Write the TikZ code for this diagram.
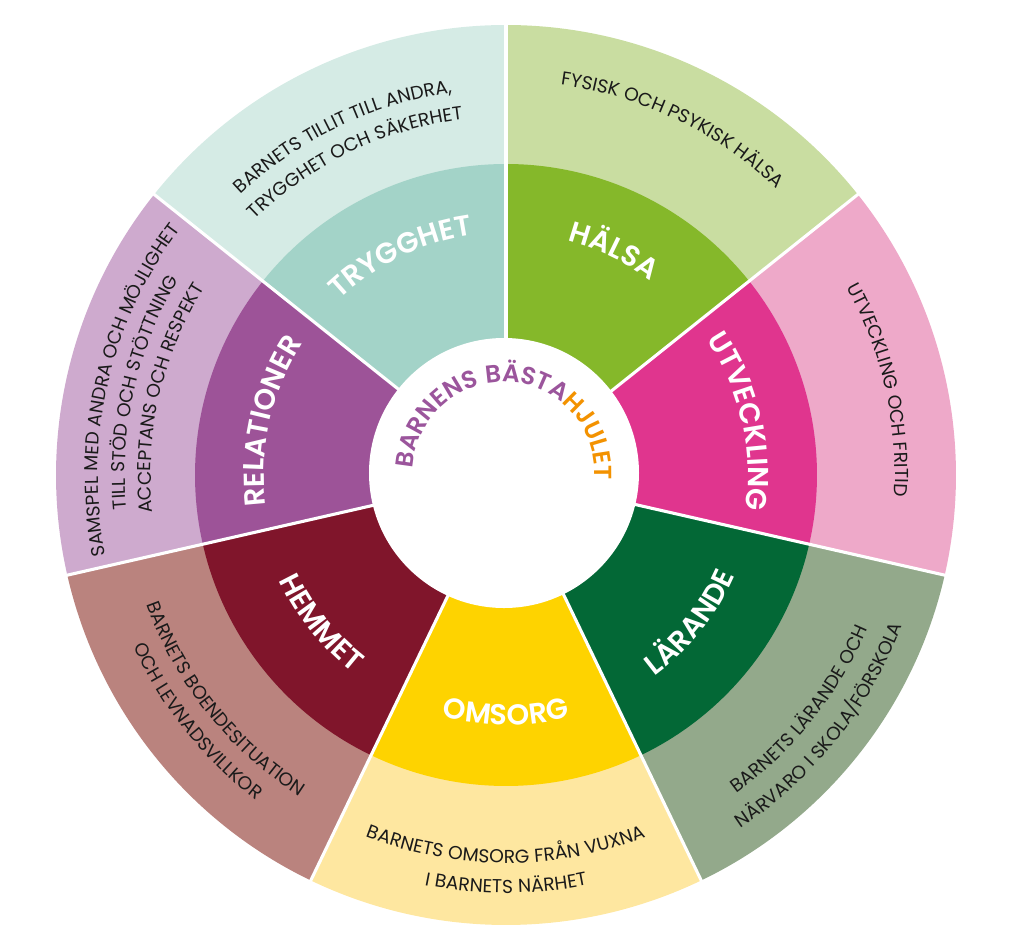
\documentclass[tikz,border=0pt]{standalone}
\usepackage{fontspec}
\setmainfont{Poppins}
\newfontfamily\hubfamily[LetterSpace=5, BoldFont={Poppins SemiBold}]{Poppins}
\newfontfamily\spokefamily[LetterSpace=8, BoldFont={Poppins SemiBold}]{Poppins}
\newfontfamily\rimfamily[LetterSpace=1.5]{Poppins}
\usepackage{xcolor}
\usepackage{tikz}
\usetikzlibrary{decorations.text}
\definecolor{trygin}{RGB}{163,211,200}
\definecolor{trygout}{RGB}{213,235,229}
\definecolor{halsain}{RGB}{133,184,42}
\definecolor{halsaout}{RGB}{201,221,161}
\definecolor{utvin}{RGB}{224,53,142}
\definecolor{utvout}{RGB}{238,169,201}
\definecolor{larin}{RGB}{3,104,54}
\definecolor{larout}{RGB}{147,169,139}
\definecolor{omsin}{RGB}{254,211,0}
\definecolor{omsout}{RGB}{254,231,160}
\definecolor{hemin}{RGB}{128,21,43}
\definecolor{hemout}{RGB}{186,131,126}
\definecolor{relin}{RGB}{157,83,152}
\definecolor{relout}{RGB}{206,170,206}
\definecolor{hubpurple}{RGB}{155,85,156}
\definecolor{huborange}{RGB}{243,146,0}
\definecolor{rimtext}{RGB}{26,26,26}
\newcommand{\spokefont}{\spokefamily\bfseries\fontsize{20.5}{20.5}\selectfont\color{white}}
\newcommand{\rimfont}{\rimfamily\fontsize{13.3}{13.3}\selectfont\color{rimtext}}
\newcommand{\hubfont}{\hubfamily\bfseries\fontsize{17.5}{17.5}\selectfont}

\begin{document}
\begin{tikzpicture}[
    x=0.025cm, y=0.025cm,
    gapline/.style={draw=white, line width=2.2pt},
    spoke/.style={decorate, decoration={text along path, text align=center, text={|\spokefont|#1}}},
    rim/.style={decorate, decoration={text along path, text align=center, text={|\rimfont|#1}}}
]
\useasboundingbox (-506,-468) rectangle (518,475);

% outer ring
\fill[trygout] (0,0) -- (141.43:450) arc[start angle=141.43, end angle=90, radius=450] -- cycle;
\fill[halsaout] (0,0) -- (90:450) arc[start angle=90, end angle=38.57, radius=450] -- cycle;
\fill[utvout] (0,0) -- (38.57:450) arc[start angle=38.57, end angle=-12.86, radius=450] -- cycle;
\fill[larout] (0,0) -- (-12.86:450) arc[start angle=-12.86, end angle=-64.29, radius=450] -- cycle;
\fill[omsout] (0,0) -- (-64.29:450) arc[start angle=-64.29, end angle=-115.71, radius=450] -- cycle;
\fill[hemout] (0,0) -- (-115.71:450) arc[start angle=-115.71, end angle=-167.14, radius=450] -- cycle;
\fill[relout] (0,0) -- (-167.14:450) arc[start angle=-167.14, end angle=-218.57, radius=450] -- cycle;

% inner ring
\fill[trygin] (0,0) -- (141.43:311) arc[start angle=141.43, end angle=90, radius=311] -- cycle;
\fill[halsain] (0,0) -- (90:311) arc[start angle=90, end angle=38.57, radius=311] -- cycle;
\fill[utvin] (0,0) -- (38.57:311) arc[start angle=38.57, end angle=-12.86, radius=311] -- cycle;
\fill[larin] (0,0) -- (-12.86:311) arc[start angle=-12.86, end angle=-64.29, radius=311] -- cycle;
\fill[omsin] (0,0) -- (-64.29:311) arc[start angle=-64.29, end angle=-115.71, radius=311] -- cycle;
\fill[hemin] (0,0) -- (-115.71:311) arc[start angle=-115.71, end angle=-167.14, radius=311] -- cycle;
\fill[relin] (0,0) -- (-167.14:311) arc[start angle=-167.14, end angle=-218.57, radius=311] -- cycle;

% white gaps and hub
\draw[gapline] (0,0) -- (90:452);
\draw[gapline] (0,0) -- (38.57:452);
\draw[gapline] (0,0) -- (-12.86:452);
\draw[gapline] (0,0) -- (-64.29:452);
\draw[gapline] (0,0) -- (-115.71:452);
\draw[gapline] (0,0) -- (-167.14:452);
\draw[gapline] (0,0) -- (141.43:452);
\fill[white] (-2,2) circle[radius=135];

% spoke labels
\path[spoke=TRYGGHET] (175.71:242) arc[start angle=175.71, end angle=55.71, radius=242];
\path[spoke=HÄLSA] (124.29:242) arc[start angle=124.29, end angle=4.29, radius=242];
\path[spoke=UTVECKLING] (72.86:242) arc[start angle=72.86, end angle=-47.14, radius=242];
\path[spoke=LÄRANDE] (-98.57:250) arc[start angle=-98.57, end angle=21.43, radius=250];
\path[spoke=OMSORG] (-150:250) arc[start angle=-150, end angle=-30, radius=250];
\path[spoke=HEMMET] (-201.43:250) arc[start angle=-201.43, end angle=-81.43, radius=250];
\path[spoke=RELATIONER] (227.14:242) arc[start angle=227.14, end angle=107.14, radius=242];

% rim texts
\path[rim={BARNETS TILLIT TILL ANDRA,}] (185.71:386) arc[start angle=185.71, end angle=45.71, radius=386];
\path[rim={TRYGGHET OCH SÄKERHET}] (185.71:358) arc[start angle=185.71, end angle=45.71, radius=358];
\path[rim={FYSISK OCH PSYKISK HÄLSA}] (134.29:394) arc[start angle=134.29, end angle=-5.71, radius=394];
\path[rim={UTVECKLING OCH FRITID}] (82.86:389) arc[start angle=82.86, end angle=-57.14, radius=389];
\path[rim={BARNETS LÄRANDE OCH}] (-108.57:393) arc[start angle=-108.57, end angle=31.43, radius=393];
\path[rim={NÄRVARO I SKOLA/FÖRSKOLA}] (-108.57:424) arc[start angle=-108.57, end angle=31.43, radius=424];
\path[rim={BARNETS OMSORG FRÅN VUXNA}] (-160:388) arc[start angle=-160, end angle=-20, radius=388];
\path[rim={I BARNETS NÄRHET}] (-160:418) arc[start angle=-160, end angle=-20, radius=418];
\path[rim={BARNETS BOENDESITUATION}] (-211.43:382) arc[start angle=-211.43, end angle=-71.43, radius=382];
\path[rim={OCH LEVNADSVILLKOR}] (-211.43:410) arc[start angle=-211.43, end angle=-71.43, radius=410];
\path[rim={SAMSPEL MED ANDRA OCH MÖJLIGHET}] (237.14:408) arc[start angle=237.14, end angle=97.14, radius=408];
\path[rim={TILL STÖD OCH STÖTTNING}] (237.14:381) arc[start angle=237.14, end angle=97.14, radius=381];
\path[rim={ACCEPTANS OCH RESPEKT}] (237.14:355) arc[start angle=237.14, end angle=97.14, radius=355];

% hub title
\path[decorate, decoration={text along path, text align=center,
    text={|\hubfont\color{hubpurple}|BARNENS BÄSTA|\hubfont\color{huborange}|HJULET}}]
    ([shift={(-2,2)}]200:91) arc[start angle=200, end angle=-27, radius=91];

\end{tikzpicture}
\end{document}
